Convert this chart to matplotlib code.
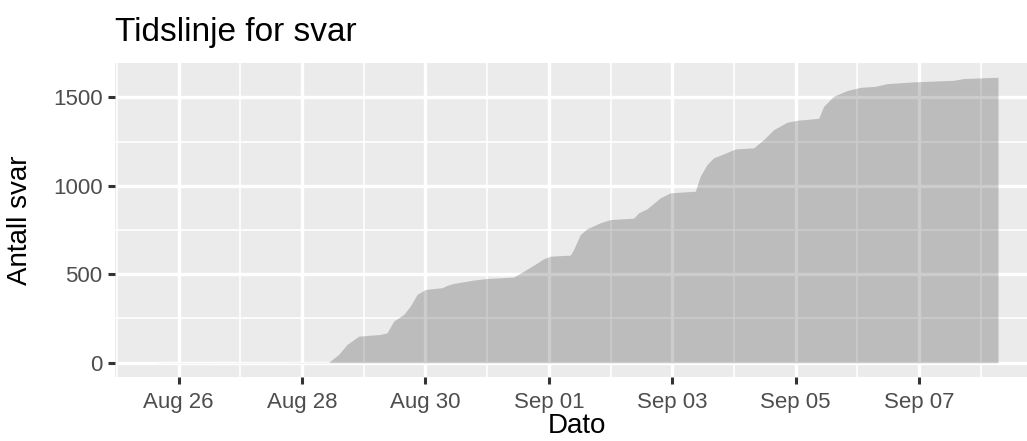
import matplotlib
matplotlib.use("Agg")
import matplotlib.pyplot as plt
import matplotlib.dates as mdates
import numpy as np
import pandas as pd

# Cumulative number of responses over time
timestamps = [
    "2021-08-25 15:36", "2021-08-28 10:20", "2021-08-28 14:14", "2021-08-28 17:30",
    "2021-08-28 22:00", "2021-08-29 06:27", "2021-08-29 09:04", "2021-08-29 11:38",
    "2021-08-29 15:32", "2021-08-29 18:07", "2021-08-29 20:44", "2021-08-29 23:58",
    "2021-08-30 06:27", "2021-08-30 08:24", "2021-08-30 10:58", "2021-08-30 18:45",
    "2021-08-30 23:57", "2021-08-31 10:18", "2021-08-31 14:12", "2021-08-31 18:05",
    "2021-08-31 21:58", "2021-09-01 00:35", "2021-09-01 08:21", "2021-09-01 09:38",
    "2021-09-01 12:15", "2021-09-01 14:51", "2021-09-01 20:02", "2021-09-01 23:55",
    "2021-09-02 08:59", "2021-09-02 10:55", "2021-09-02 14:12", "2021-09-02 19:22",
    "2021-09-02 23:16", "2021-09-03 08:59", "2021-09-03 10:55", "2021-09-03 13:32",
    "2021-09-03 16:06", "2021-09-03 19:59", "2021-09-04 00:33", "2021-09-04 07:39",
    "2021-09-04 11:33", "2021-09-04 15:26", "2021-09-04 20:40", "2021-09-05 00:33",
    "2021-09-05 08:57", "2021-09-05 10:54", "2021-09-05 14:47", "2021-09-05 20:00",
    "2021-09-06 01:11", "2021-09-06 07:00", "2021-09-06 11:33", "2021-09-06 21:53",
    "2021-09-07 13:28", "2021-09-07 17:21", "2021-09-08 06:43",
]
cumulative = [
    1, 2, 47, 103,
    150, 160, 169, 235,
    273, 320, 386, 414,
    424, 437, 448, 467,
    476, 484, 517, 551,
    587, 602, 608, 640,
    725, 757, 791, 809,
    817, 847, 870, 932,
    960, 969, 1055, 1120,
    1158, 1180, 1208, 1214,
    1261, 1317, 1359, 1370,
    1381, 1449, 1506, 1538,
    1556, 1562, 1577, 1587,
    1596, 1606, 1613,
]
y_ticks = [0, 500, 1000, 1500]
y_minor = [250, 750, 1250]

title = "Tidslinje for svar"
x_label = "Dato"
y_label = "Antall svar"

plt.rcParams["font.family"] = ["Liberation Sans", "DejaVu Sans"]

t = pd.to_datetime(timestamps)
x = mdates.date2num(t.to_pydatetime())
y = np.array(cumulative, dtype=float)

W, H = 1027, 441
fig = plt.figure(figsize=(W / 100, H / 100), dpi=100)

# panel geometry (pixels)
left_px, top_px, bottom_px = 115, 63, 377
xmin, xmax = x.min(), x.max()
xpad = 0.05 * (xmax - xmin)
ypad = 0.05 * (y.max() - 0)
x_lo, x_hi = xmin - xpad, xmax + xpad
y_lo, y_hi = 0 - ypad, y.max() + ypad
px_per_day = 61.7
width_px = (x_hi - x_lo) * px_per_day

ax = fig.add_axes([left_px / W, (H - bottom_px) / H, width_px / W, (bottom_px - top_px) / H])
ax.set_facecolor("#EBEBEB")
for s in ax.spines.values():
    s.set_visible(False)

ax.fill_between(x, 0, y, color="black", alpha=0.2, linewidth=0, zorder=3)

ax.set_xlim(x_lo, x_hi)
ax.set_ylim(y_lo, y_hi)

ax.xaxis.set_major_locator(mdates.DayLocator(bymonthday=[26, 28, 30, 1, 3, 5, 7]))
ax.xaxis.set_minor_locator(mdates.DayLocator(bymonthday=[25, 27, 29, 31, 2, 4, 6, 8]))
ax.xaxis.set_major_formatter(mdates.DateFormatter("%b %d"))
ax.set_yticks(y_ticks)
ax.set_yticks(y_minor, minor=True)

ax.grid(which="major", color="white", linewidth=2.4, zorder=1)
ax.grid(which="minor", color="white", linewidth=1.2, zorder=1)
ax.set_axisbelow(True)

ax.tick_params(which="major", length=5, width=2.2, color="#333333",
               labelsize=16, labelcolor="#4D4D4D", pad=4)
ax.tick_params(axis="x", which="major", pad=6)
ax.tick_params(which="minor", length=0)

ax.set_xlabel(x_label, fontsize=20, color="black", labelpad=0)
ax.set_ylabel(y_label, fontsize=20, color="black", labelpad=14)
ax.xaxis.label.set_x((577 - left_px) / width_px)

fig.text(left_px / W, 1 - 32 / H, title, fontsize=24, color="black",
         ha="left", va="center")

fig.savefig("out.png", dpi=100)
